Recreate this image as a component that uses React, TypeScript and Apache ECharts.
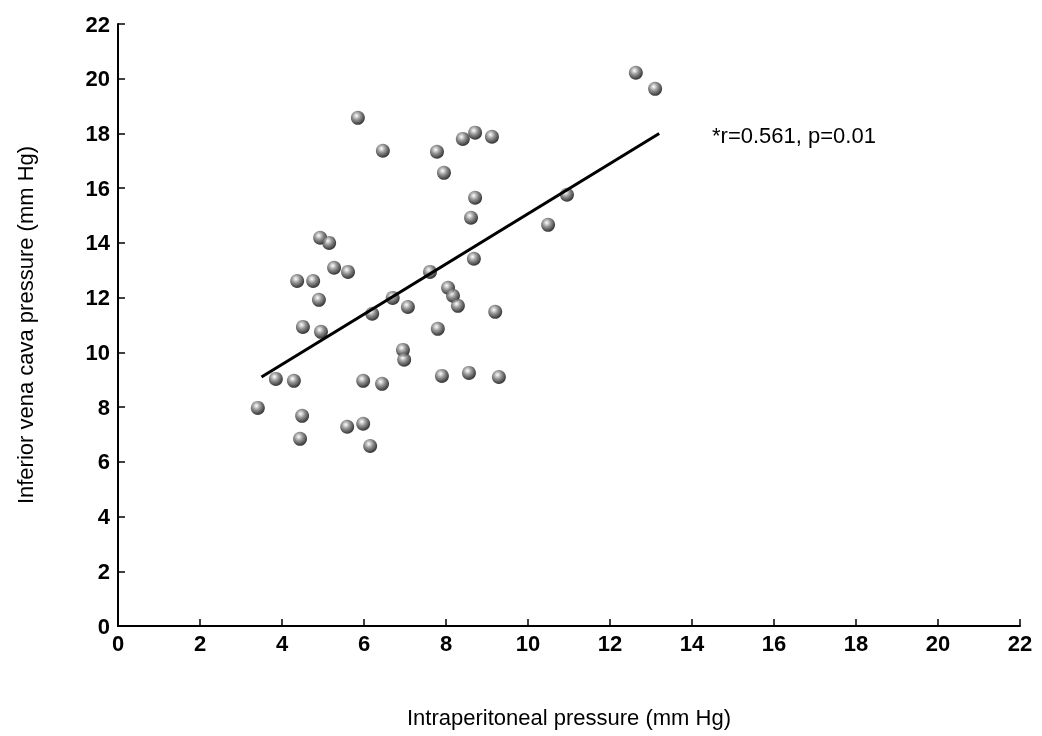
import { useEffect, useRef } from 'react';
import * as echarts from 'echarts';

// Intraperitoneal pressure (x) and IVC pressure (y), mm Hg
const xValues = [
  12.63, 13.1, 5.85, 6.46, 7.78, 8.41, 8.71, 9.12, 7.95, 8.71, 8.61, 10.49, 10.95,
  4.93, 5.15, 5.27, 5.61, 4.37, 4.76, 4.9, 7.61, 8.68, 6.7, 8.05, 8.17, 8.29, 6.2,
  7.07, 9.2, 4.51, 4.95, 7.8, 6.95, 6.98, 3.85, 4.29, 5.98, 6.44, 7.9, 8.56, 9.29,
  3.41, 4.49, 4.44, 5.59, 5.98, 6.15,
];
const yValues = [
  20.22, 19.63, 18.57, 17.37, 17.33, 17.8, 18.03, 17.88, 16.56, 15.65, 14.92, 14.66, 15.76,
  14.19, 14.0, 13.09, 12.94, 12.61, 12.61, 11.92, 12.94, 13.42, 11.99, 12.36, 12.07, 11.7, 11.41,
  11.66, 11.48, 10.93, 10.75, 10.86, 10.09, 9.73, 9.03, 8.96, 8.96, 8.85, 9.14, 9.25, 9.1,
  7.97, 7.68, 6.84, 7.28, 7.39, 6.58,
];
const fitX = [3.5, 13.2];
const fitY = [9.1, 18.0];
const annotation = '*r=0.561, p=0.01';

export default function App() {
  const chartRef = useRef<HTMLDivElement>(null);

  useEffect(() => {
    if (!chartRef.current) return;
    const chart = echarts.init(chartRef.current, undefined, { renderer: 'svg' });

    const axisCommon = {
      type: 'value' as const,
      min: 0,
      max: 22,
      interval: 2,
      splitLine: { show: false },
      axisLine: { lineStyle: { color: '#000', width: 2 } },
      axisTick: { inside: true, length: 7, lineStyle: { color: '#000', width: 1.5 } },
      axisLabel: { color: '#000', fontSize: 22, fontWeight: 'bold' as const, fontFamily: 'Liberation Sans' },
      nameLocation: 'middle' as const,
      nameTextStyle: { color: '#000', fontSize: 22, fontFamily: 'Liberation Sans' },
    };

    chart.setOption({
      animation: false,
      grid: { left: 118, right: 22, top: 24, bottom: 110 },
      xAxis: { ...axisCommon, name: 'Intraperitoneal pressure (mm Hg)', nameGap: 80, axisLabel: { ...axisCommon.axisLabel, margin: 6 } },
      yAxis: { ...axisCommon, name: 'Inferior vena cava pressure (mm Hg)', nameGap: 82 },
      graphic: [
        {
          type: 'text',
          left: 712,
          top: 124,
          style: { text: annotation, fontSize: 22, fill: '#000', fontFamily: 'Liberation Sans' },
        },
      ],
      series: [
        {
          type: 'line',
          data: fitX.map((x, i) => [x, fitY[i]]),
          showSymbol: false,
          lineStyle: { color: '#000', width: 3 },
        },
        {
          type: 'scatter',
          data: xValues.map((x, i) => [x, yValues[i]]),
          symbolSize: 14,
          itemStyle: {
            color: new echarts.graphic.RadialGradient(0.4, 0.35, 0.6, [
              { offset: 0, color: '#ffffff' },
              { offset: 0.5, color: '#777777' },
              { offset: 1, color: '#111111' },
            ]),
          },
        },
      ],
    });

    return () => chart.dispose();
  }, []);

  return <div ref={chartRef} style={{ position: 'fixed', left: 0, top: 0, width: 1042, height: 736 }} />;
}
